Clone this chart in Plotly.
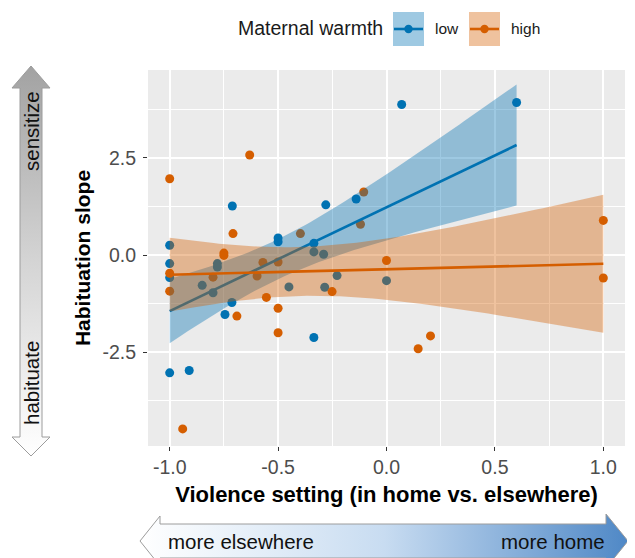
import numpy as np
import plotly.graph_objects as go

# ---------------- data ----------------
low_x = [-1.0, -1.0, -1.0, -1.0, -0.91, -0.85, -0.80, -0.78, -0.78, -0.745, -0.713, -0.711,
         -0.50, -0.50, -0.45, -0.335, -0.335, -0.335, -0.29, -0.285, -0.28, -0.228, -0.14,
         0.0, 0.07, 0.6]
low_y = [0.25, -0.22, -0.58, -3.03, -2.97, -0.78, -0.97, -0.22, -0.31, -1.53, -1.22, 1.26,
         0.44, 0.34, -0.82, 0.30, 0.08, -2.12, 0.02, -0.83, 1.29, -0.53, 1.44,
         -0.66, 3.87, 3.92]

high_x = [-1.0, -1.0, -1.0, -0.94, -0.80, -0.75, -0.75, -0.708, -0.69, -0.631, -0.597, -0.57,
          -0.554, -0.5, -0.5, -0.5, -0.397, -0.251, -0.12, -0.105, 0.0, 0.146, 0.203, 1.0, 1.0]
high_y = [1.96, -0.47, -0.93, -4.47, -0.57, 0.05, -0.01, 0.55, -1.57, 2.57, -0.54, -0.19,
          -1.09, -0.18, -1.37, -2.00, 0.55, -0.94, 0.79, 1.62, -0.14, -2.41, -2.08, 0.89, -0.59]

group_names = ["low", "high"]
legend_title = "Maternal warmth"
x_tickvals = [-1.0, -0.5, 0.0, 0.5, 1.0]
x_ticktext = ["-1.0", "-0.5", "0.0", "0.5", "1.0"]
y_tickvals = [-2.5, 0.0, 2.5]
y_ticktext = ["-2.5", "0.0", "2.5"]
x_title = "Violence setting (in home vs. elsewhere)"
y_title = "Habituation slope"
y_arrow_labels = ["sensitize", "habituate"]
x_arrow_labels = ["more elsewhere", "more home"]

# ---------------- style ----------------
BLUE = "#0072B2"
ORANGE = "#D55E00"
BLUE_FILL = "rgba(0,114,178,0.38)"
ORANGE_FILL = "rgba(213,94,0,0.38)"
FONT = "Liberation Sans, Arial, Helvetica, sans-serif"
W, H = 635, 558
OFF = 8                               # page body margin in the screenshot
PL, PR, PT, PB = 148, 625, 70, 446    # panel edges in screen px

# Student t 0.975 quantiles (for geom_smooth-style 95% bands)
T975 = {22: 2.0739, 23: 2.0687, 24: 2.0639, 25: 2.0595}


def lm_band(x, y, n_out=80):
    x = np.asarray(x, float)
    y = np.asarray(y, float)
    n = len(x)
    b, a = np.polyfit(x, y, 1)
    xg = np.linspace(x.min(), x.max(), n_out)
    yhat = a + b * xg
    resid = y - (a + b * x)
    s = np.sqrt(np.sum(resid ** 2) / (n - 2))
    sxx = np.sum((x - x.mean()) ** 2)
    se = s * np.sqrt(1.0 / n + (xg - x.mean()) ** 2 / sxx)
    t = T975[n - 2]
    return xg, yhat, yhat - t * se, yhat + t * se


fig = go.Figure()

# points
for xs, ys, col, nm in [(low_x, low_y, BLUE, group_names[0]), (high_x, high_y, ORANGE, group_names[1])]:
    fig.add_trace(go.Scatter(x=xs, y=ys, mode="markers", name=nm, showlegend=False,
                             marker=dict(color=col, size=9, line=dict(width=0))))

# smooths: ribbon then line, per group
for xs, ys, col, fcol, nm in [(low_x, low_y, BLUE, BLUE_FILL, group_names[0]),
                              (high_x, high_y, ORANGE, ORANGE_FILL, group_names[1])]:
    xg, yh, lo, hi = lm_band(xs, ys)
    fig.add_trace(go.Scatter(x=np.concatenate([xg, xg[::-1]]), y=np.concatenate([hi, lo[::-1]]),
                             fill="toself", fillcolor=fcol, mode="lines", line=dict(width=0),
                             hoverinfo="skip", showlegend=False))
    fig.add_trace(go.Scatter(x=xg, y=yh, mode="lines", line=dict(color=col, width=2.6),
                             showlegend=False, name=nm))

# ---------------- decorative overlay (screen-pixel space) ----------------
# vertical gray arrow
va_x = [31, 50, 42, 42, 50, 31, 12, 20, 20, 12, 31]
va_y = [66, 88, 88, 437, 437, 456, 437, 437, 88, 88, 66]
fig.add_trace(go.Scatter(x=va_x, y=va_y, xaxis="x2", yaxis="y2", mode="lines", fill="toself",
                         line=dict(color="#9C9C9C", width=1),
                         fillgradient=dict(type="vertical",
                                           colorscale=[[0, "#A2A2A2"], [0.5, "#D4D4D4"], [1, "#FFFFFF"]],
                                           start=66, stop=456),
                         hoverinfo="skip", showlegend=False))
# horizontal blue arrow
ha_x = [140, 160, 160, 606, 606, 628, 606, 606, 160, 160, 140]
ha_y = [541, 516, 524, 524, 514, 541, 568, 558, 558, 566, 541]
fig.add_trace(go.Scatter(x=ha_x, y=ha_y, xaxis="x2", yaxis="y2", mode="lines", fill="toself",
                         line=dict(color="#9C9C9C", width=1),
                         fillgradient=dict(type="horizontal",
                                           colorscale=[[0, "#FFFFFF"], [0.5, "#C8DCF1"], [1, "#4F88C6"]],
                                           start=140, stop=628),
                         hoverinfo="skip", showlegend=False))

annotations = []
annotations.append(dict(x=31, y=131, xref="x2", yref="y2", text=y_arrow_labels[0], textangle=-90,
                        showarrow=False, font=dict(size=20.5, color="#111111", family=FONT)))
annotations.append(dict(x=31, y=383, xref="x2", yref="y2", text=y_arrow_labels[1], textangle=-90,
                        showarrow=False, font=dict(size=20.5, color="#111111", family=FONT)))
annotations.append(dict(x=241, y=541, xref="x2", yref="y2", text=x_arrow_labels[0],
                        showarrow=False, font=dict(size=20.5, color="#111111", family=FONT)))
annotations.append(dict(x=553, y=541, xref="x2", yref="y2", text=x_arrow_labels[1],
                        showarrow=False, font=dict(size=20.5, color="#111111", family=FONT)))

# legend (drawn manually to mimic ggplot keys)
annotations.append(dict(x=310.5, y=28, xref="x2", yref="y2", text=legend_title, showarrow=False,
                        font=dict(size=19.5, color="#1A1A1A", family=FONT)))
shapes = []
for (x0, x1, tx, col, fcol, lab) in [(393, 424, 447, BLUE, BLUE_FILL, group_names[0]),
                                     (469, 500, 525.5, ORANGE, ORANGE_FILL, group_names[1])]:
    shapes.append(dict(type="rect", xref="x2", yref="y2", x0=x0, x1=x1, y0=12, y1=46,
                       fillcolor=fcol, line=dict(width=0), layer="above"))
    shapes.append(dict(type="line", xref="x2", yref="y2", x0=x0 + 1, x1=x1 - 1, y0=29, y1=29,
                       line=dict(color=col, width=2.6), layer="above"))
    cx = (x0 + x1) / 2
    shapes.append(dict(type="circle", xref="x2", yref="y2", x0=cx - 4.2, x1=cx + 4.2, y0=24.8, y1=33.2,
                       fillcolor=col, line=dict(width=0), layer="above"))
    annotations.append(dict(x=tx, y=28, xref="x2", yref="y2", text=lab, showarrow=False,
                            font=dict(size=15.5, color="#1A1A1A", family=FONT)))

# panel background
shapes.append(dict(type="rect", xref="x domain", yref="y domain", x0=0, x1=1, y0=0, y1=1,
                   fillcolor="#EBEBEB", line=dict(width=0), layer="below"))

fig.update_layout(
    width=W, height=H,
    margin=dict(l=0, r=0, t=0, b=0),
    paper_bgcolor="white",
    plot_bgcolor="rgba(0,0,0,0)",
    font=dict(family=FONT),
    showlegend=False,
    shapes=shapes,
    annotations=annotations,
    xaxis=dict(domain=[(PL - OFF) / W, (PR - OFF) / W], range=[-1.1, 1.1],
               tickvals=x_tickvals, ticktext=x_ticktext,
               showgrid=True, gridcolor="white", gridwidth=1.5, zeroline=False, showline=False,
               ticks="outside", ticklen=4, tickwidth=1, tickcolor="#333333",
               tickfont=dict(size=19.5, color="#4D4D4D", family=FONT),
               minor=dict(dtick=0.25, tick0=0, showgrid=True, gridcolor="white", gridwidth=0.75),
               title=dict(text=x_title, standoff=9,
                          font=dict(size=22, color="#000000", family=FONT, weight="bold")),
               automargin=False, fixedrange=True, anchor="y"),
    yaxis=dict(domain=[1 - (PB - OFF) / H, 1 - (PT - OFF) / H], range=[-4.91, 4.756],
               tickvals=y_tickvals, ticktext=y_ticktext,
               showgrid=True, gridcolor="white", gridwidth=1.5, zeroline=False, showline=False,
               ticks="outside", ticklen=4, tickwidth=1, tickcolor="#333333",
               ticklabelstandoff=3,
               tickfont=dict(size=19.5, color="#4D4D4D", family=FONT),
               minor=dict(dtick=1.25, tick0=0, showgrid=True, gridcolor="white", gridwidth=0.75),
               title=dict(text=y_title, standoff=6,
                          font=dict(size=21, color="#000000", family=FONT, weight="bold")),
               automargin=False, fixedrange=True, anchor="x"),
    xaxis2=dict(domain=[0, 1], range=[OFF, W + OFF], visible=False, fixedrange=True, anchor="y2"),
    yaxis2=dict(domain=[0, 1], range=[H + OFF, OFF], visible=False, fixedrange=True, anchor="x2"),
)

fig.write_html("out.html")
